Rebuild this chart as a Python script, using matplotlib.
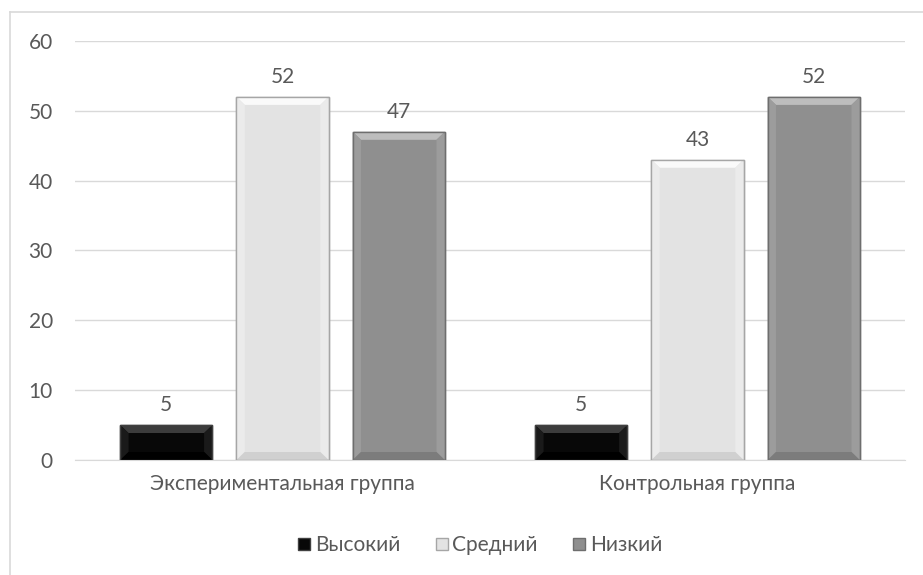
import numpy as np
import matplotlib.pyplot as plt
from matplotlib.patches import Polygon
from matplotlib.lines import Line2D

plt.rcParams['font.family'] = ['Lato', 'DejaVu Sans']

groups = ["Экспериментальная группа", "Контрольная группа"]
levels = ["Высокий", "Средний", "Низкий"]
values = {
    "Высокий": [5, 5],
    "Средний": [52, 43],
    "Низкий": [47, 52],
}

# face, top bevel, side bevel, bottom bevel, edge
palette = {
    "Высокий": ("#080808", "#3c3c3c", "#1a1a1a", "#000000", "#404040"),
    "Средний": ("#e3e3e3", "#fafafa", "#ebebeb", "#d0d0d0", "#a6a6a6"),
    "Низкий": ("#8f8f8f", "#bdbdbd", "#9c9c9c", "#7c7c7c", "#6e6e6e"),
}

text_col = "#595959"
grid_col = "#d9d9d9"
fs = 15

fig = plt.figure(figsize=(9.23, 5.75), dpi=100)
ax = fig.add_axes([0.0813, 0.2, 0.8992, 0.7287])

x = np.arange(len(groups))
width = 0.222
step = 0.28
bx = 0.02     # bevel size along x (data units)
by = 1.15     # bevel size along y (data units)


def bevel_bar(xc, h, colors):
    face, top, side, bottom, edge = colors
    x0, x1 = xc - width / 2, xc + width / 2
    ax.bar(xc, h, width, color=face, edgecolor=edge, linewidth=1.0, zorder=3)
    b = min(by, h / 2.5)
    inner = [(x0 + bx, b), (x1 - bx, b), (x1 - bx, h - b), (x0 + bx, h - b)]
    ax.add_patch(Polygon([(x0, h), (x1, h), inner[2], inner[3]],
                         closed=True, color=top, lw=0, zorder=4))
    ax.add_patch(Polygon([(x0, 0), (x0, h), inner[3], inner[0]],
                         closed=True, color=side, lw=0, zorder=4))
    ax.add_patch(Polygon([(x1, 0), (x1, h), inner[2], inner[1]],
                         closed=True, color=side, lw=0, zorder=4))
    ax.add_patch(Polygon([(x0, 0), (x1, 0), inner[1], inner[0]],
                         closed=True, color=bottom, lw=0, zorder=4))
    ax.add_patch(Polygon(inner, closed=True, color=face, lw=0, zorder=5))
    ax.bar(xc, h, width, fill=False, edgecolor=edge, linewidth=1.0, zorder=6)


for i, lvl in enumerate(levels):
    for j, v in enumerate(values[lvl]):
        xc = x[j] + (i - 1) * step
        bevel_bar(xc, v, palette[lvl])
        ax.annotate(str(v), (xc, v), xytext=(0, 7), textcoords="offset points",
                    ha="center", va="bottom", fontsize=fs, color=text_col)

ax.set_xlim(-0.5, 1.5)
ax.set_ylim(0, 60)
ax.set_yticks(np.arange(0, 61, 10))
ax.set_xticks(x)
ax.set_xticklabels(groups)
ax.yaxis.grid(True, color=grid_col, linewidth=1.0, zorder=0)
ax.set_axisbelow(True)
for s in ["top", "right", "left"]:
    ax.spines[s].set_visible(False)
ax.spines["bottom"].set_color(grid_col)
ax.tick_params(axis="both", length=0, labelsize=fs, labelcolor=text_col)
ax.tick_params(axis="y", pad=16)
ax.tick_params(axis="x", pad=10)

handles = [Line2D([], [], marker="s", linestyle="none", markersize=8,
                  markerfacecolor=palette[l][0], markeredgecolor=palette[l][4])
           for l in levels]
leg = fig.legend(handles, levels, loc="center", bbox_to_anchor=(0.518, 0.052),
                 ncol=3, frameon=False, fontsize=fs, handletextpad=0.0,
                 columnspacing=1.5, handlelength=1.0)
for t in leg.get_texts():
    t.set_color(text_col)

# chart area border (top and left edges visible)
fig.add_artist(Line2D([9.5 / 923, 1], [1 - 12 / 575, 1 - 12 / 575],
                      transform=fig.transFigure, color=grid_col, lw=1.2))
fig.add_artist(Line2D([9.5 / 923, 9.5 / 923], [0, 1 - 12 / 575],
                      transform=fig.transFigure, color=grid_col, lw=1.2))

fig.savefig("out.png", dpi=100)
